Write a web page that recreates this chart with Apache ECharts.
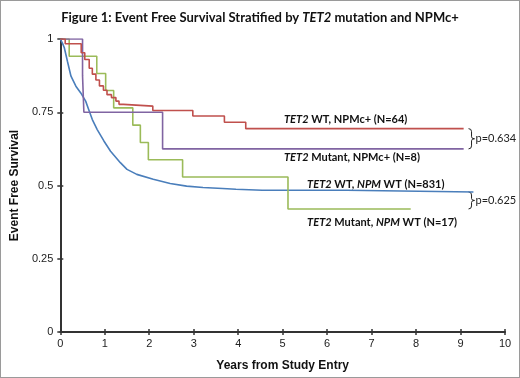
<!DOCTYPE html>
<html>
<head>
<meta charset="utf-8">
<script src="https://cdn.jsdelivr.net/npm/echarts@6/dist/echarts.min.js"></script>
<style>
  html, body { margin: 0; padding: 0; background: #fff; }
  #chart { width: 518px; height: 376px; border: 1px solid #9a9a9a; }
</style>
</head>
<body>
<div id="chart"></div>
<script>
  // Kaplan-Meier curves, [years, survival]
  const wtNpmcPos = [[0, 1], [0.11, 0.984], [0.47, 0.953], [0.55, 0.93], [0.65, 0.9], [0.72, 0.88], [0.8, 0.86],
    [0.88, 0.84], [0.97, 0.825], [1.05, 0.81], [1.15, 0.8], [1.25, 0.788], [1.32, 0.777], [1.42, 0.771],
    [2.08, 0.756], [2.98, 0.737], [3.69, 0.716], [4.17, 0.694], [9.07, 0.694]]
  const mutNpmcPos = [[0, 1], [0.5, 0.875], [0.53, 0.75], [2.3, 0.625], [9.07, 0.625]]
  const wtNpmWt = [[0, 1], [0.05, 0.985], [0.09, 0.97], [0.16, 0.924], [0.24, 0.873], [0.35, 0.839], [0.46, 0.816],
    [0.57, 0.788], [0.65, 0.754], [0.72, 0.725], [0.83, 0.691], [0.98, 0.652], [1.13, 0.617], [1.35, 0.578],
    [1.5, 0.555], [1.72, 0.538], [2.09, 0.521], [2.47, 0.507], [2.84, 0.498], [3.21, 0.493], [3.65, 0.49],
    [3.95, 0.487], [4.54, 0.484], [6.44, 0.484], [6.45, 0.478], [9.29, 0.478]]
  const mutNpmWt = [[0, 1], [0.2, 0.941], [0.82, 0.882], [1.02, 0.824], [1.2, 0.765], [1.63, 0.706], [1.8, 0.647],
    [1.98, 0.588], [2.75, 0.529], [5.12, 0.42], [7.88, 0.42]]

  const xTicks = [0, 1, 2, 3, 4, 5, 6, 7, 8, 9, 10]
  const yTicks = [0, 0.25, 0.5, 0.75, 1]

  // curve labels: [year, survival] anchor (left edge, middle)
  const labels = [
    { text: '{i|TET2} WT, NPMc+ (N=64)', at: [5.03, 0.725] },
    { text: '{i|TET2} Mutant, NPMc+ (N=8)', at: [5.03, 0.595] },
    { text: '{i|TET2} WT, {i|NPM} WT (N=831)', at: [5.55, 0.504] },
    { text: '{i|TET2} Mutant, {i|NPM} WT (N=17)', at: [5.55, 0.374] },
  ]
  const pValues = [
    { text: 'p=0.634', top: 0.694, bottom: 0.625 },
    { text: 'p=0.625', top: 0.478, bottom: 0.42 },
  ]

  const chart = echarts.init(document.getElementById('chart'))
  const axisColor = '#333'
  const font = 'Lato, "Open Sans", sans-serif'

  function kmSeries(name, data, color, step) {
    return {
      name, type: 'line', data, step, symbol: 'none',
      lineStyle: { color, width: 1.6 }, animation: false,
    }
  }

  chart.setOption({
    animation: false,
    title: {
      text: 'Figure 1: Event Free Survival Stratified by {i|TET2} mutation and NPMc+',
      left: 'center', top: 5,
      textStyle: {
        fontFamily: font, fontSize: 13, fontWeight: 'bold', color: '#111',
        rich: { i: { fontFamily: font, fontSize: 13, fontWeight: 'bold', fontStyle: 'italic', color: '#111' } },
      },
    },
    grid: { left: 55, right: 14, top: 38, bottom: 44 },
    xAxis: [
      {
        type: 'value', min: 0, max: 10, interval: 1,
        name: 'Years from Study Entry', nameLocation: 'middle', nameGap: 28,
        nameTextStyle: { fontFamily: 'Liberation Sans, Arial', fontSize: 12, fontWeight: 'bold', color: '#111' },
        axisLine: { lineStyle: { color: axisColor, width: 2 } },
        axisTick: { length: 3, lineStyle: { color: axisColor, width: 1.5 } },
        axisLabel: { fontFamily: 'Liberation Sans, Arial', fontSize: 11, color: '#222', margin: 6,
          formatter: v => xTicks.includes(v) ? String(v) : '' },
        splitLine: { show: false },
      },
      {
        type: 'value', min: 0, max: 10, interval: 1, position: 'bottom',
        axisLine: { show: false },
        axisTick: { inside: true, length: 3, lineStyle: { color: axisColor, width: 1.5 } },
        axisLabel: { show: false }, splitLine: { show: false },
      },
    ],
    yAxis: [
      {
        type: 'value', min: 0, max: 1, interval: 0.25,
        name: 'Event Free Survival', nameLocation: 'middle', nameGap: 33,
        nameTextStyle: { fontFamily: 'Liberation Sans, Arial', fontSize: 12, fontWeight: 'bold', color: '#111' },
        axisLine: { show: true, lineStyle: { color: axisColor, width: 2 } },
        axisTick: { show: true, length: 3, lineStyle: { color: axisColor, width: 1.5 } },
        axisLabel: { fontFamily: 'Liberation Sans, Arial', fontSize: 11, color: '#222', margin: 7,
          formatter: v => yTicks.includes(v) ? String(v) : '' },
        splitLine: { show: false },
      },
      {
        type: 'value', min: 0, max: 1, interval: 0.25, position: 'left',
        axisLine: { show: false },
        axisTick: { show: true, inside: true, length: 3, lineStyle: { color: axisColor, width: 1.5 } },
        axisLabel: { show: false }, splitLine: { show: false },
      },
    ],
    series: [
      kmSeries('TET2 WT, NPM WT', wtNpmWt, '#4a7ebb', false),
      kmSeries('TET2 Mutant, NPM WT', mutNpmWt, '#9bbb59', 'end'),
      kmSeries('TET2 Mutant, NPMc+', mutNpmcPos, '#8064a2', 'end'),
      kmSeries('TET2 WT, NPMc+', wtNpmcPos, '#c0504d', 'end'),
    ],
  })

  // annotations placed through the axes
  const graphic = []
  const labelStyle = { fontFamily: font, fontSize: 11, fontWeight: 'bold', fill: '#111' }
  labels.forEach(l => {
    const [px, py] = chart.convertToPixel({ gridIndex: 0 }, l.at)
    graphic.push({
      type: 'text', x: px, y: py,
      style: Object.assign({}, labelStyle, {
        text: l.text, verticalAlign: 'middle',
        rich: { i: { fontFamily: font, fontSize: 11, fontWeight: 'bold', fontStyle: 'italic', fill: '#111' } },
      }),
    })
  })
  pValues.forEach(p => {
    const [bx, y1] = chart.convertToPixel({ gridIndex: 0 }, [9.18, p.top])
    const y2 = chart.convertToPixel({ gridIndex: 0 }, [9.18, p.bottom])[1]
    const m = (y1 + y2) / 2
    const braceStyle = { fill: 'none', stroke: '#222', lineWidth: 1 }
    graphic.push({
      type: 'bezierCurve',
      shape: { x1: bx, y1: y1, x2: bx + 3, y2: y1 + 3, cpx1: bx + 3, cpy1: y1 },
      style: braceStyle,
    })
    graphic.push({ type: 'line', shape: { x1: bx + 3, y1: y1 + 3, x2: bx + 3, y2: m - 2 }, style: braceStyle })
    graphic.push({
      type: 'bezierCurve',
      shape: { x1: bx + 3, y1: m - 2, x2: bx + 6, y2: m, cpx1: bx + 3, cpy1: m },
      style: braceStyle,
    })
    graphic.push({
      type: 'bezierCurve',
      shape: { x1: bx + 6, y1: m, x2: bx + 3, y2: m + 2, cpx1: bx + 3, cpy1: m },
      style: braceStyle,
    })
    graphic.push({ type: 'line', shape: { x1: bx + 3, y1: m + 2, x2: bx + 3, y2: y2 - 3 }, style: braceStyle })
    graphic.push({
      type: 'bezierCurve',
      shape: { x1: bx + 3, y1: y2 - 3, x2: bx, y2: y2, cpx1: bx + 3, cpy1: y2 },
      style: braceStyle,
    })
    graphic.push({
      type: 'text', x: bx + 7, y: m,
      style: { text: p.text, fontFamily: font, fontSize: 11, fill: '#222', verticalAlign: 'middle' },
    })
  })
  chart.setOption({ graphic })
</script>
</body>
</html>
